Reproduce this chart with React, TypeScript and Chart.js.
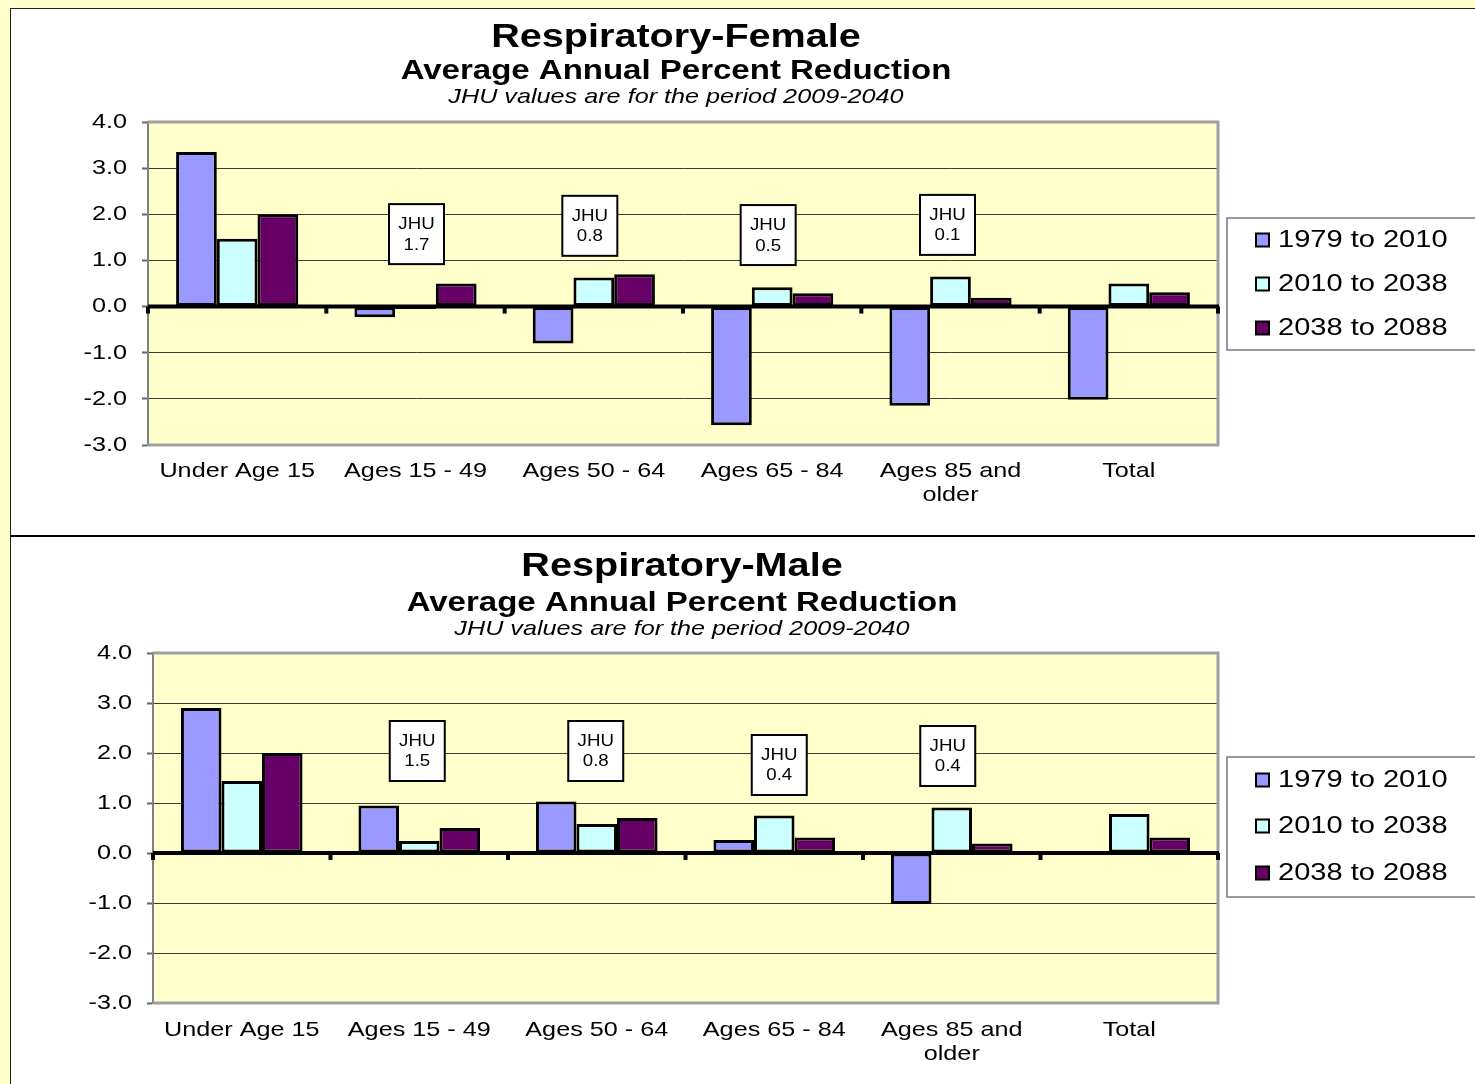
import React, { useEffect, useRef } from 'react';
import { Chart, registerables } from 'chart.js';
Chart.register(...registerables);

const categories: (string | string[])[] = ['Under Age 15', 'Ages 15 - 49', 'Ages 50 - 64', 'Ages 65 - 84', ['Ages 85 and', 'older'], 'Total'];
const seriesLabels = ['1979 to 2010', '2010 to 2038', '2038 to 2088'];
const seriesColors = ['#9999FF', '#CCFFFF', '#660066'];

const female1979 = [3.35, -0.23, -0.8, -2.57, -2.15, -2.02];
const female2010 = [1.47, -0.05, 0.63, 0.42, 0.65, 0.5];
const female2038 = [2.0, 0.5, 0.7, 0.29, 0.19, 0.31];

const male1979 = [2.9, 0.95, 1.03, 0.26, -1.02, 0];
const male2010 = [1.44, 0.24, 0.58, 0.75, 0.91, 0.78];
const male2038 = [2.0, 0.5, 0.7, 0.31, 0.19, 0.31];

const jhuFemale = [null, 1.7, 0.8, 0.5, 0.1, null];
const jhuMale = [null, 1.5, 0.8, 0.4, 0.4, null];

const yMin = -3;
const yMax = 4;
const yStep = 1;

const titleFemale = 'Respiratory-Female';
const titleMale = 'Respiratory-Male';
const subtitleText = 'Average Annual Percent Reduction';
const noteText = 'JHU values are for the period 2009-2040';

const FONT = '"Liberation Sans", Arial, sans-serif';
const SX = 1.2;

function txt(ctx: CanvasRenderingContext2D, s: string, x: number, y: number, font: string, align: CanvasTextAlign, sx = SX) {
  ctx.save();
  ctx.font = font;
  ctx.fillStyle = '#000';
  ctx.textBaseline = 'middle';
  ctx.textAlign = align;
  ctx.translate(x, y);
  ctx.scale(sx, 1);
  ctx.fillText(s, 0, 0);
  ctx.restore();
}

const decor = {
  id: 'decor',
  beforeDraw(chart: any) {
    const { ctx, chartArea: a } = chart;
    ctx.save();
    ctx.fillStyle = '#FFFFCC';
    ctx.fillRect(a.left, a.top, a.right - a.left, a.bottom - a.top);
    ctx.restore();
  },
  beforeDatasetsDraw(chart: any) {
    const { ctx, chartArea: a } = chart;
    ctx.save();
    ctx.strokeStyle = '#a0a0a0';
    ctx.lineWidth = 3;
    ctx.beginPath();
    ctx.moveTo(a.left, a.top);
    ctx.lineTo(a.right, a.top);
    ctx.lineTo(a.right, a.bottom);
    ctx.lineTo(a.left, a.bottom);
    ctx.stroke();
    ctx.restore();
  },
  afterDatasetsDraw(chart: any, _args: any, o: any) {
    const { ctx, chartArea: a } = chart;
    const xs = chart.scales.x;
    const ys = chart.scales.y;
    const y0 = ys.getPixelForValue(0);
    const n = chart.data.labels.length;
    const cw = (a.right - a.left) / n;
    ctx.save();
    ctx.strokeStyle = '#000';
    ctx.lineWidth = 4;
    ctx.beginPath();
    ctx.moveTo(a.left, y0);
    ctx.lineTo(a.right + 1, y0);
    ctx.stroke();
    ctx.lineWidth = 4;
    for (let i = 0; i <= n; i++) {
      const bx = i < n ? xs.getPixelForValue(i) - cw / 2 : xs.getPixelForValue(n - 1) + cw / 2;
      ctx.beginPath();
      ctx.moveTo(bx, y0);
      ctx.lineTo(bx, y0 + 7);
      ctx.stroke();
    }
    const vals: (number | null)[] = o.jhu;
    vals.forEach((v, i) => {
      if (v === null || v === undefined) return;
      const cx = xs.getPixelForValue(i) + o.jhuDx[i];
      const cy = ys.getPixelForValue(o.jhuY[i]);
      const w = 55, h = 60;
      const l = cx - w / 2, t = cy - h / 2;
      ctx.fillStyle = '#fff';
      ctx.fillRect(l, t, w, h);
      ctx.strokeStyle = '#000';
      ctx.lineWidth = 2;
      ctx.strokeRect(l, t, w, h);
      txt(ctx, 'JHU', cx, t + h * 0.34, `17px ${FONT}`, 'center', 1.1);
      txt(ctx, v.toFixed(1), cx, t + h * 0.68, `17px ${FONT}`, 'center', 1.1);
    });
    ctx.restore();
  },
  afterDraw(chart: any, _args: any, o: any) {
    const { ctx, chartArea: a } = chart;
    const xs = chart.scales.x;
    const ys = chart.scales.y;
    txt(ctx, o.title, o.titleX, o.titleY[0], `bold 33px ${FONT}`, 'center');
    txt(ctx, o.subtitle, o.titleX, o.titleY[1], `bold 27.5px ${FONT}`, 'center');
    txt(ctx, o.note, o.titleX, o.titleY[2], `italic 21px ${FONT}`, 'center');
    ys.ticks.forEach((t: any) => {
      const py = ys.getPixelForValue(t.value);
      txt(ctx, Number(t.value).toFixed(1), a.left - 21, py, `21px ${FONT}`, 'right');
    });
    (chart.data.labels as any[]).forEach((lab, i) => {
      const px = xs.getPixelForValue(i);
      const lines = Array.isArray(lab) ? lab : [lab];
      lines.forEach((s: string, j: number) => {
        txt(ctx, s, px, a.bottom + o.xLabelOffset + j * 24, `21px ${FONT}`, 'center');
      });
    });
    const lg = o.legend;
    ctx.save();
    ctx.fillStyle = '#fff';
    ctx.fillRect(lg.x, lg.y, 400, lg.h);
    ctx.strokeStyle = '#7a7a7a';
    ctx.lineWidth = 1.5;
    ctx.strokeRect(lg.x, lg.y, 400, lg.h);
    chart.data.datasets.forEach((ds: any, i: number) => {
      const iy = lg.items[i];
      ctx.fillStyle = ds.backgroundColor;
      ctx.fillRect(lg.x + 29, iy - 6.5, 13, 13);
      ctx.strokeStyle = '#000';
      ctx.lineWidth = 2;
      ctx.strokeRect(lg.x + 29, iy - 6.5, 13, 13);
      txt(ctx, ds.label, lg.x + 51, iy, `24px ${FONT}`, 'left', 1.21);
    });
    ctx.restore();
  },
};

function makeConfig(series: number[][], pad: any, decorOpts: any): any {
  return {
    type: 'bar',
    data: {
      labels: categories,
      datasets: seriesLabels.map((l, i) => ({
        label: l,
        data: series[i],
        backgroundColor: seriesColors[i],
        borderColor: '#000',
        borderWidth: 3,
        borderSkipped: false,
        categoryPercentage: 0.685,
        barPercentage: 1,
      })),
    },
    options: {
      responsive: false,
      animation: false,
      devicePixelRatio: 1,
      layout: { padding: pad },
      plugins: {
        legend: { display: false },
        title: { display: false },
        tooltip: { enabled: false },
        decor: decorOpts,
      },
      scales: {
        x: {
          type: 'category',
          offset: true,
          grid: { display: false },
          border: { display: false },
          ticks: { display: false },
          afterFit: (s: any) => { s.height = 0; },
        },
        y: {
          min: yMin,
          max: yMax,
          ticks: { display: false, stepSize: yStep },
          grid: {
            color: '#3a3a3a',
            lineWidth: 1,
            drawTicks: true,
            tickLength: 6,
            tickColor: '#666',
            tickWidth: 2,
          },
          border: { display: true, color: '#808080', width: 2 },
          afterFit: (s: any) => { s.width = 0; },
        },
      },
    },
    plugins: [decor],
  };
}

function ChartCanvas({ width, height, config }: { width: number; height: number; config: any }) {
  const ref = useRef<HTMLCanvasElement | null>(null);
  useEffect(() => {
    if (!ref.current) return;
    const c = new Chart(ref.current, config);
    return () => c.destroy();
  }, []);
  return <canvas ref={ref} width={width} height={height} style={{ display: 'block', width, height }} />;
}

export default function App() {
  const femaleCfg = makeConfig(
    [female1979, female2010, female2038],
    { left: 137, top: 113, right: 257, bottom: 91 },
    {
      title: titleFemale, subtitle: subtitleText, note: noteText,
      titleX: 665, titleY: [29, 62, 88],
      xLabelOffset: 26,
      legend: { x: 1216, y: 209, h: 132, items: [231, 275, 319] },
      jhu: jhuFemale,
      jhuY: [0, 1.57, 1.75, 1.55, 1.77, 0],
      jhuDx: [0, 1, -4, -4, -3, 0],
    }
  );
  const maleCfg = makeConfig(
    [male1979, male2010, male2038],
    { left: 142, top: 116, right: 257, bottom: 81 },
    {
      title: titleMale, subtitle: subtitleText, note: noteText,
      titleX: 671, titleY: [30, 66, 92],
      xLabelOffset: 27,
      legend: { x: 1216, y: 220, h: 140, items: [243, 289, 336] },
      jhu: jhuMale,
      jhuY: [0, 2.04, 2.04, 1.76, 1.94, 0],
      jhuDx: [0, -2, -1, 5, -4, 0],
    }
  );
  return (
    <div style={{ position: 'fixed', left: 0, top: 0, width: 1475, height: 1084, background: '#FFFFCC', overflow: 'hidden' }}>
      <div style={{ position: 'absolute', left: 10, top: 8, width: 1480, height: 527, borderTop: '1px solid #222', borderLeft: '1px solid #222', background: '#fff' }}>
        <ChartCanvas width={1464} height={527} config={femaleCfg} />
      </div>
      <div style={{ position: 'absolute', left: 10, top: 535, width: 1480, height: 560, borderTop: '2px solid #000', borderLeft: '1px solid #222', background: '#fff' }}>
        <ChartCanvas width={1464} height={547} config={maleCfg} />
      </div>
    </div>
  );
}
